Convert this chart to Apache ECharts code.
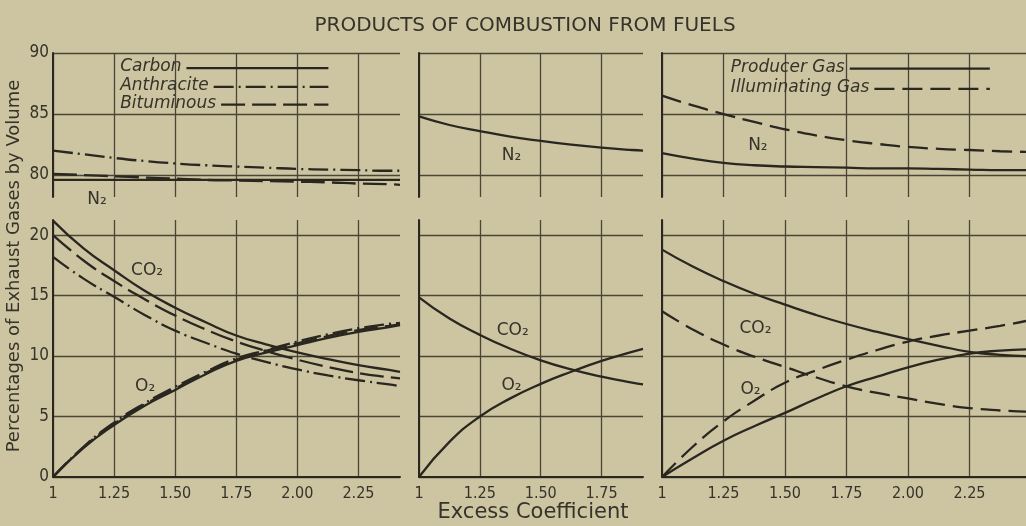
<!DOCTYPE html>
<html>
<head>
<meta charset="utf-8">
<script src="https://cdn.jsdelivr.net/npm/echarts@6/dist/echarts.min.js"></script>
<style>
  html, body { margin: 0; padding: 0; background: #cdc4a1; }
  #chart { width: 1026px; height: 526px; }
</style>
</head>
<body>
<div id="chart"></div>
<script>
// ---- Excess coefficient samples for each panel ----
const X_SOLID = [1, 1.125, 1.25, 1.375, 1.5, 1.625, 1.75, 1.875, 2.0, 2.125, 2.25, 2.375, 2.42];
const X_MID   = [1, 1.125, 1.25, 1.375, 1.5, 1.625, 1.75, 1.875, 1.92];
const X_GAS   = [1, 1.125, 1.25, 1.375, 1.5, 1.625, 1.75, 1.875, 2.0, 2.125, 2.25, 2.375, 2.48];

// ---- Panel 1: solid fuels (percent by volume) ----
const carbonN2      = [79.6, 79.6, 79.6, 79.6, 79.6, 79.6, 79.6, 79.6, 79.6, 79.6, 79.6, 79.6, 79.6];
const anthraciteN2  = [82.0, 81.7, 81.4, 81.15, 80.95, 80.8, 80.7, 80.6, 80.5, 80.45, 80.4, 80.35, 80.35];
const bituminousN2  = [80.1, 80.0, 79.9, 79.8, 79.7, 79.6, 79.55, 79.5, 79.45, 79.4, 79.3, 79.25, 79.2];
const carbonCO2     = [21.2, 18.9, 17.1, 15.4, 14.0, 12.8, 11.7, 10.95, 10.3, 9.75, 9.25, 8.85, 8.7];
const anthraciteCO2 = [18.2, 16.4, 14.9, 13.4, 12.1, 11.1, 10.2, 9.5, 8.9, 8.4, 8.0, 7.65, 7.5];
const bituminousCO2 = [20.0, 17.9, 16.2, 14.7, 13.35, 12.2, 11.2, 10.4, 9.7, 9.1, 8.6, 8.25, 8.15];
const carbonO2      = [0, 2.4, 4.3, 5.9, 7.2, 8.5, 9.6, 10.3, 10.9, 11.5, 12.0, 12.4, 12.55];
const anthraciteO2  = [0, 2.5, 4.5, 6.1, 7.45, 8.7, 9.8, 10.5, 11.2, 11.8, 12.3, 12.65, 12.75];
const bituminousO2  = [0, 2.45, 4.4, 6.0, 7.3, 8.6, 9.7, 10.45, 11.05, 11.65, 12.15, 12.5, 12.65];

// ---- Panel 2 ----
const midN2  = [84.8, 84.1, 83.6, 83.15, 82.8, 82.5, 82.25, 82.05, 82.0];
const midCO2 = [14.85, 13.1, 11.75, 10.6, 9.65, 8.9, 8.3, 7.8, 7.65];
const midO2  = [0, 2.9, 5.0, 6.5, 7.7, 8.7, 9.6, 10.35, 10.6];

// ---- Panel 3: gaseous fuels ----
const producerN2      = [81.8, 81.35, 81.0, 80.8, 80.7, 80.65, 80.6, 80.55, 80.55, 80.5, 80.45, 80.4, 80.4];
const illuminatingN2  = [86.5, 85.7, 85.0, 84.35, 83.75, 83.25, 82.85, 82.55, 82.3, 82.15, 82.05, 81.95, 81.9];
const producerCO2     = [18.8, 17.4, 16.2, 15.15, 14.25, 13.4, 12.65, 12.0, 11.4, 10.85, 10.35, 10.1, 10.0];
const illuminatingCO2 = [13.7, 12.2, 10.95, 9.95, 9.1, 8.25, 7.5, 6.95, 6.5, 6.05, 5.7, 5.5, 5.4];
const producerO2      = [0, 1.55, 3.0, 4.2, 5.3, 6.45, 7.5, 8.3, 9.07, 9.7, 10.2, 10.45, 10.55];
const illuminatingO2  = [0, 2.5, 4.6, 6.3, 7.8, 8.8, 9.7, 10.5, 11.2, 11.7, 12.1, 12.5, 12.9];

// ---- Text ----
const TITLE = 'PRODUCTS OF COMBUSTION FROM FUELS';
const Y_NAME = 'Percentages of Exhaust Gases by Volume';
const X_NAME = 'Excess Coefficient';
const LEGEND_SOLID = ['Carbon', 'Anthracite', 'Bituminous'];
const LEGEND_GAS = ['Producer Gas', 'Illuminating Gas'];

// ---- Styling ----
const INK = '#29271f';
const GRIDINK = '#4a4536';
const TEXTINK = '#35332a';
const FONT = "'DejaVu Sans', sans-serif";
const NUMFONT = "'DejaVu Sans Condensed', 'Liberation Sans Narrow', 'DejaVu Sans', sans-serif";
const DASH = {
  solid: 'solid',
  dashDot: [20, 5, 2, 5],
  longDash: [24, 7],
  gasDash: [20, 8]
};

const panels = [
  { left: 53,  width: 347, xMax: 2.42, yLabels: true },
  { left: 419, width: 224, xMax: 1.92, yLabels: false },
  { left: 662, width: 364, xMax: 2.48, yLabels: false }
];

const grids = [], xAxes = [], yAxes = [];
panels.forEach((p, i) => {
  // upper band (nitrogen) and lower band (CO2 / O2)
  grids.push({ left: p.left, width: p.width, top: 53, height: 144 });
  grids.push({ left: p.left, width: p.width, top: 220, height: 257 });
  [0, 1].forEach(band => {
    const lower = band === 1;
    xAxes.push({
      type: 'value', gridIndex: i * 2 + band, min: 1, max: p.xMax, interval: 0.25,
      axisLine: { show: lower, onZero: false, lineStyle: { color: INK, width: 2 } },
      axisTick: { show: false },
      axisLabel: {
        show: lower, showMaxLabel: false, margin: 9, color: TEXTINK,
        fontSize: 16, fontFamily: NUMFONT,
        formatter: v => (v === 1 ? '1' : v.toFixed(2))
      },
      splitLine: { show: true, showMaxLine: false, lineStyle: { color: GRIDINK, width: 1.3 } }
    });
    const yBase = {
      type: 'value', gridIndex: i * 2 + band,
      axisLine: { show: true, onZero: false, lineStyle: { color: INK, width: 2 } },
      axisTick: { show: false },
      axisLabel: {
        show: p.yLabels, margin: 4, color: TEXTINK, fontSize: 17, fontFamily: NUMFONT
      },
      splitLine: { show: true, lineStyle: { color: GRIDINK, width: 1.3 } }
    };
    if (lower) {
      Object.assign(yBase, { min: 0, max: 21.25, interval: 5 });
      yBase.axisLabel.showMaxLabel = false;
      yBase.splitLine.showMaxLine = false;
    } else {
      Object.assign(yBase, { min: 78.2, max: 90, splitNumber: 2 });
      yBase.axisLabel.showMinLabel = false;
      yBase.splitLine.showMinLine = false;
    }
    yAxes.push(yBase);
  });
});

function curve(name, xs, ys, axis, dash) {
  return {
    name, type: 'line', xAxisIndex: axis, yAxisIndex: axis,
    data: xs.map((x, k) => [x, ys[k]]),
    smooth: 0.5, showSymbol: false, symbol: 'none', silent: true,
    lineStyle: { color: INK, width: 2.3, type: dash }
  };
}

const series = [
  curve('Carbon', X_SOLID, carbonN2, 0, DASH.solid),
  curve('Anthracite', X_SOLID, anthraciteN2, 0, DASH.dashDot),
  curve('Bituminous', X_SOLID, bituminousN2, 0, DASH.longDash),
  curve('Carbon', X_SOLID, carbonCO2, 1, DASH.solid),
  curve('Anthracite', X_SOLID, anthraciteCO2, 1, DASH.dashDot),
  curve('Bituminous', X_SOLID, bituminousCO2, 1, DASH.longDash),
  curve('Carbon', X_SOLID, carbonO2, 1, DASH.solid),
  curve('Anthracite', X_SOLID, anthraciteO2, 1, DASH.dashDot),
  curve('Bituminous', X_SOLID, bituminousO2, 1, DASH.longDash),
  curve('N2', X_MID, midN2, 2, DASH.solid),
  curve('CO2', X_MID, midCO2, 3, DASH.solid),
  curve('O2', X_MID, midO2, 3, DASH.solid),
  curve('Producer Gas', X_GAS, producerN2, 4, DASH.solid),
  curve('Illuminating Gas', X_GAS, illuminatingN2, 4, DASH.gasDash),
  curve('Producer Gas', X_GAS, producerCO2, 5, DASH.solid),
  curve('Illuminating Gas', X_GAS, illuminatingCO2, 5, DASH.gasDash),
  curve('Producer Gas', X_GAS, producerO2, 5, DASH.solid),
  curve('Illuminating Gas', X_GAS, illuminatingO2, 5, DASH.gasDash)
];

const chart = echarts.init(document.getElementById('chart'), null, { renderer: 'canvas' });
chart.setOption({
  backgroundColor: '#cdc4a1',
  animation: false,
  title: {
    text: TITLE, left: 520, top: 11, textAlign: 'center',
    textStyle: { color: TEXTINK, fontSize: 20, fontWeight: 'normal', fontFamily: FONT }
  },
  grid: grids, xAxis: xAxes, yAxis: yAxes, series
});

// Gas labels placed in data coordinates of their band
const GAS_LABELS = [
  [0, 1.18, 77.95, 'N₂'],
  [1, 1.385, 17.1, 'CO₂'], [1, 1.377, 7.45, 'O₂'],
  [2, 1.38, 81.6, 'N₂'],
  [3, 1.385, 12.1, 'CO₂'], [3, 1.38, 7.6, 'O₂'],
  [4, 1.39, 82.45, 'N₂'],
  [5, 1.38, 12.3, 'CO₂'], [5, 1.36, 7.2, 'O₂']
];

// Key entries: band, text start (x), row values, line end (x), dash styles
const KEYS = [
  { grid: 0, x0: 1.275, x1: 2.127, rows: [88.85, 87.3, 85.85], names: LEGEND_SOLID,
    dashes: [DASH.solid, DASH.dashDot, DASH.longDash] },
  { grid: 4, x0: 1.28, x1: 2.333, rows: [88.8, 87.15], names: LEGEND_GAS,
    dashes: [DASH.solid, DASH.gasDash] }
];

const measureCtx = document.createElement('canvas').getContext('2d');
const KEY_FONT_SIZE = 17;
measureCtx.font = 'italic ' + KEY_FONT_SIZE + 'px ' + FONT;

const graphics = [];
GAS_LABELS.forEach(([g, x, y, t]) => {
  const [px, py] = chart.convertToPixel({ gridIndex: g }, [x, y]);
  graphics.push({
    type: 'text', x: px, y: py, silent: true,
    style: { text: t, fill: TEXTINK, fontSize: 17, fontFamily: FONT, align: 'center', verticalAlign: 'middle' }
  });
});
KEYS.forEach(k => {
  k.names.forEach((name, r) => {
    const [tx, ty] = chart.convertToPixel({ gridIndex: k.grid }, [k.x0, k.rows[r]]);
    const [ex] = chart.convertToPixel({ gridIndex: k.grid }, [k.x1, k.rows[r]]);
    const w = measureCtx.measureText(name).width;
    graphics.push({
      type: 'text', x: tx, y: ty, silent: true,
      style: { text: name, fill: TEXTINK, fontSize: KEY_FONT_SIZE, fontStyle: 'italic',
               fontFamily: FONT, align: 'left', verticalAlign: 'middle' }
    });
    const dash = k.dashes[r];
    graphics.push({
      type: 'line', silent: true,
      shape: { x1: tx + w + 5, y1: ty + 1, x2: ex, y2: ty + 1 },
      style: { stroke: INK, lineWidth: 2.3, lineDash: dash === 'solid' ? null : dash }
    });
  });
});

// Axis titles
graphics.push({
  type: 'text', x: 14, y: 266, rotation: Math.PI / 2, silent: true,
  style: { text: Y_NAME, fill: TEXTINK, fontSize: 18, fontFamily: FONT, align: 'center', verticalAlign: 'middle' }
});
graphics.push({
  type: 'text', x: 533, y: 513, silent: true,
  style: { text: X_NAME, fill: TEXTINK, fontSize: 21, fontFamily: FONT, align: 'center', verticalAlign: 'middle' }
});

chart.setOption({ graphic: graphics });
</script>
</body>
</html>
